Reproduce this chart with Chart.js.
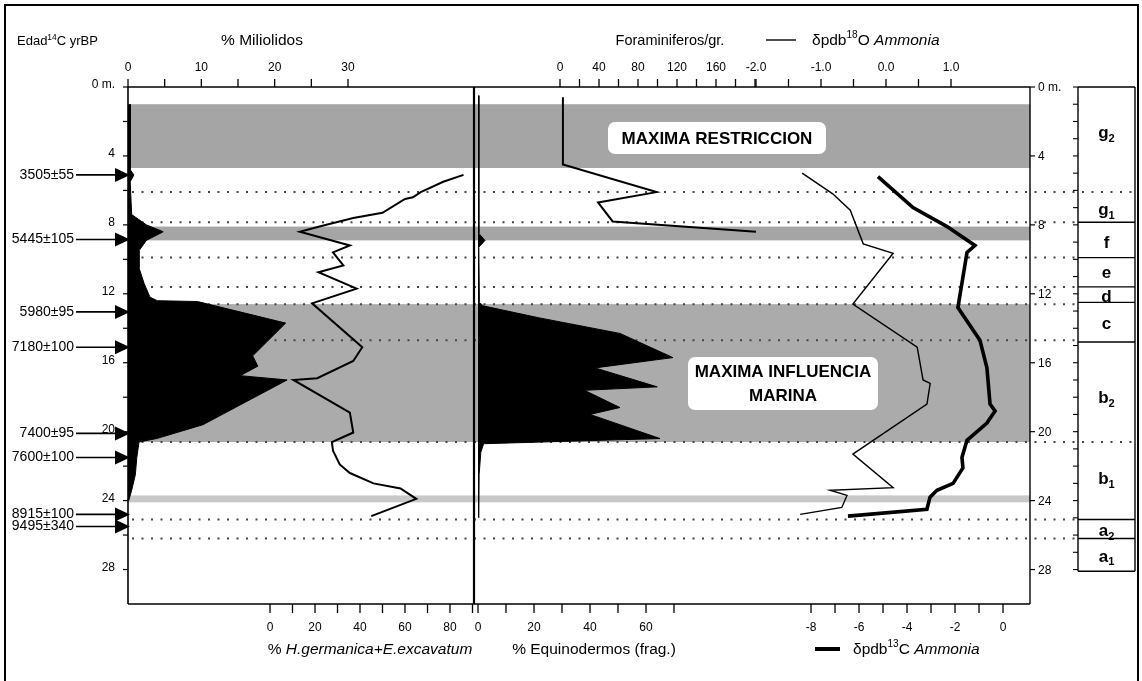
<!DOCTYPE html>
<html>
<head>
<meta charset="utf-8">
<script src="https://cdn.jsdelivr.net/npm/chart.js@4"></script>
<style>
  body { margin: 0; background: #fff; }
  canvas { display: block; }
</style>
</head>
<body>
<canvas id="c" width="1142" height="681"></canvas>
<script>
// --- datos (profundidad en m, valor) ---
const depthMil = [1.0, 4.8, 5.1, 5.5, 7.4, 8.0, 8.4, 8.9, 9.5, 10.5, 11.4, 12.2, 12.4, 12.45, 13.7, 15.6, 16.2, 16.75, 17.0, 19.6, 20.4, 20.6, 21.5, 22.5, 23.4, 24.0];
const miliolidos = [0.3, 0.3, 0.8, 0.3, 0.5, 2.5, 4.8, 2.5, 1.5, 1.5, 2.2, 3.0, 4.0, 9.5, 21.5, 17.0, 17.7, 15.3, 21.7, 10.2, 3.9, 1.5, 1.2, 1.0, 0.5, 0.1];

const depthHger = [5.1, 5.5, 6.1, 6.4, 6.5, 7.3, 7.6, 8.1, 8.4, 9.2, 9.6, 10.35, 10.75, 11.7, 12.55, 15.1, 15.9, 16.9, 17.0, 18.9, 20.05, 20.6, 21.1, 21.9, 22.4, 23.0, 23.3, 23.9, 24.9];
const hgermanica = [86, 77, 67, 63.5, 60, 50, 37, 22, 13.3, 35.5, 28, 32.6, 21.5, 38.5, 18.7, 41, 37, 21, 10.4, 35.5, 37, 27.5, 28, 31, 35.5, 46, 58, 65, 45];

const depthEqu = [0.5, 8.5, 8.9, 9.3, 12.5, 12.7, 13.4, 14.3, 15.7, 16.3, 17.4, 17.6, 18.6, 19.0, 20.4, 20.7, 21.2, 22.5, 25.0];
const equinodermos = [0.3, 0.3, 2.5, 0.3, 0.5, 1.8, 22, 50.7, 69.6, 41.8, 64, 38, 50.7, 40, 65, 2, 1.0, 0.4, 0.3];

const depthFor = [0.6, 4.5, 6.1, 6.7, 7.8, 8.4];
const foraminiferos = [3, 3, 99, 39, 54, 201];

const depthO18 = [5.0, 6.2, 7.15, 9.1, 9.65, 12.6, 15.1, 17.0, 17.2, 18.4, 21.3, 23.25, 23.4, 23.7, 24.4, 24.8];
const d18O = [-1.29, -0.82, -0.55, -0.35, 0.11, -0.51, 0.48, 0.57, 0.68, 0.63, -0.51, 0.11, -0.86, -0.6, -0.68, -1.32];

const depthC13 = [5.2, 7.0, 8.1, 9.2, 9.6, 12.8, 14.7, 16.3, 18.4, 18.8, 19.5, 20.5, 21.5, 22.1, 23.0, 23.4, 23.8, 24.5, 24.9];
const d13C = [-5.21, -3.75, -2.33, -1.17, -1.5, -1.88, -0.96, -0.67, -0.54, -0.33, -0.67, -1.5, -1.71, -1.67, -2.08, -2.75, -3.04, -3.17, -6.46];

// bandas grises y líneas de puntos (m)
const bandTop = [1.0, 8.1, 12.6, 23.7];
const bandBottom = [4.7, 8.9, 20.6, 24.1];
const bandShade = ['#a5a5a5', '#a5a5a5', '#ababab', '#c8c8c8'];
const dottedDepth = [6.1, 7.85, 9.9, 11.6, 12.6, 14.7, 20.6, 25.1, 26.2];
const dottedLong = [6.1, 20.6];

// unidades
const zoneEdges = [0, 6.1, 7.85, 9.9, 11.6, 12.5, 14.8, 20.6, 25.1, 26.2, 28.1];
const zoneName = ['g', 'g', 'f', 'e', 'd', 'c', 'b', 'b', 'a', 'a'];
const zoneSub = ['2', '1', '', '', '', '', '2', '1', '2', '1'];
const zoneLabelDepth = [2.6, 7.1, 9.0, 10.75, 12.1, 13.7, 18.0, 22.7, 25.7, 27.2];

// dataciones
const dateLabels = ['3505±55', '5445±105', '5980±95', '7180±100', '7400±95', '7600±100', '8915±100', '9495±340'];
const dateDepth = [5.1, 8.85, 13.05, 15.1, 20.1, 21.5, 24.8, 25.5];

// ejes
const depthTicks = [0, 2, 4, 6, 8, 10, 12, 14, 16, 18, 20, 22, 24, 26, 28];
const depthLabels = [0, 4, 8, 12, 16, 20, 24, 28];
const milTicks = [0, 5, 10, 15, 20, 25, 30];
const milLabels = [0, 10, 20, 30];
const hgTicks = [0, 10, 20, 30, 40, 50, 60, 70, 80, 90];
const hgLabels = [0, 20, 40, 60, 80];
const equTicks = [0, 10, 20, 30, 40, 50, 60, 70];
const equLabels = [0, 20, 40, 60];
const forTicks = [0, 20, 40, 60, 80, 100, 120, 140, 160, 180, 200];
const forLabels = [0, 40, 80, 120, 160];
const o18Ticks = [-2, -1.5, -1, -0.5, 0, 0.5, 1];
const o18Labels = [-2, -1, 0, 1];
const c13Ticks = [-8, -7, -6, -5, -4, -3, -2, -1, 0];
const c13Labels = [-8, -6, -4, -2, 0];

// marco del gráfico
const L = 128, R = 1030, T = 87, B = 604, MID = 474;
const FONT = "'Liberation Sans Narrow', 'Arial Narrow', 'Liberation Sans', Arial, sans-serif";

function pairs(depths, vals) {
  return depths.map((d, i) => ({ x: vals[i], y: d }));
}
// min/max de un eje para que v0 caiga en p0 y v1 en p1
function range(v0, p0, v1, p1) {
  const k = (p1 - p0) / (v1 - v0);
  return { min: v0 - (p0 - L) / k, max: v0 + (R - p0) / k };
}
function xScale(r) {
  return Object.assign({ type: 'linear', display: false, position: 'bottom' }, r);
}

function fnt(size, bold, italic) {
  return (italic ? 'italic ' : '') + (bold ? 'bold ' : '') + size + 'px ' + FONT;
}
function rich(ctx, parts, x, y, size, align) {
  let w = 0;
  parts.forEach(p => {
    ctx.font = fnt(p.sup || p.sub ? size * 0.65 : size, p.b, p.it);
    p.w = ctx.measureText(p.t).width;
    w += p.w;
  });
  let cx = align === 'center' ? x - w / 2 : align === 'right' ? x - w : x;
  ctx.textAlign = 'left';
  ctx.textBaseline = 'alphabetic';
  parts.forEach(p => {
    ctx.font = fnt(p.sup || p.sub ? size * 0.65 : size, p.b, p.it);
    ctx.fillText(p.t, cx, y + (p.sup ? -size * 0.42 : p.sub ? size * 0.22 : 0));
    cx += p.w;
  });
}
function hline(ctx, x1, x2, y, w) {
  ctx.lineWidth = w; ctx.beginPath(); ctx.moveTo(x1, y); ctx.lineTo(x2, y); ctx.stroke();
}
function vline(ctx, x, y1, y2, w) {
  ctx.lineWidth = w; ctx.beginPath(); ctx.moveTo(x, y1); ctx.lineTo(x, y2); ctx.stroke();
}
function box(ctx, x, y, w, h, lines, cy) {
  ctx.fillStyle = '#fff';
  ctx.beginPath(); ctx.roundRect(x, y, w, h, 7); ctx.fill();
  ctx.fillStyle = '#000';
  ctx.font = "bold 17px 'Liberation Sans', Arial, sans-serif";
  ctx.textAlign = 'center'; ctx.textBaseline = 'middle';
  lines.forEach((t, i) => ctx.fillText(t, x + w / 2, cy[i]));
}

const figure = {
  id: 'figure',
  beforeDatasetsDraw(chart) {
    const { ctx } = chart;
    const y = chart.scales.y;
    ctx.save();
    bandTop.forEach((d, i) => {
      const y1 = y.getPixelForValue(d), y2 = y.getPixelForValue(bandBottom[i]);
      ctx.fillStyle = bandShade[i];
      ctx.fillRect(L, y1, R - L, y2 - y1);
    });
    ctx.strokeStyle = '#444';
    ctx.setLineDash([2, 7.5]);
    dottedDepth.forEach(d => {
      const py = y.getPixelForValue(d);
      hline(ctx, L + 4, dottedLong.includes(d) ? 1136 : 1076, py, 2);
    });
    ctx.setLineDash([]);
    box(ctx, 608, 122, 218, 32, ['MAXIMA RESTRICCION'], [139]);
    box(ctx, 688, 357, 190, 53, ['MAXIMA INFLUENCIA', 'MARINA'], [372, 396]);
    ctx.restore();
  },
  afterDatasetsDraw(chart) {
    const { ctx } = chart;
    const s = chart.scales;
    const y = s.y;
    ctx.save();
    ctx.strokeStyle = '#000';
    ctx.fillStyle = '#000';

    // marco
    hline(ctx, L, R, T, 1.6);
    hline(ctx, L, R, B, 1.6);
    vline(ctx, L, T, B, 1.6);
    vline(ctx, R, T, B, 1.4);
    vline(ctx, MID, T, B, 2.2);

    // eje de profundidad izquierdo
    ctx.font = fnt(12);
    ctx.textAlign = 'right'; ctx.textBaseline = 'middle';
    depthTicks.forEach(d => hline(ctx, L - 5, L, y.getPixelForValue(d), 1.2));
    depthLabels.forEach(d => ctx.fillText(d === 0 ? '0 m.' : String(d), L - 13, y.getPixelForValue(d) - 2));

    // eje derecho y columna de unidades
    ctx.textAlign = 'left';
    depthLabels.forEach(d => {
      const py = y.getPixelForValue(d);
      hline(ctx, R, R + 5, py, 1.2);
      ctx.fillText(d === 0 ? '0 m.' : String(d), R + 8, py + 1);
    });
    const zx1 = 1078, zx2 = 1135;
    const zTop = y.getPixelForValue(zoneEdges[0]), zBot = y.getPixelForValue(zoneEdges[zoneEdges.length - 1]);
    vline(ctx, zx1, zTop, zBot, 1.4);
    vline(ctx, zx2, zTop, zBot, 1.4);
    for (let d = 0; d <= 28; d++) hline(ctx, zx1 - 5, zx1, y.getPixelForValue(d), 1.1);
    zoneEdges.forEach(d => {
      if (!dottedLong.includes(d)) hline(ctx, zx1, zx2, y.getPixelForValue(d), 1.4);
    });
    for (let i = 0; i < zoneName.length; i++) {
      const cy = y.getPixelForValue(zoneLabelDepth[i]) + 6;
      const parts = [{ t: zoneName[i], b: true }];
      if (zoneSub[i]) parts.push({ t: zoneSub[i], sub: true, b: true });
      rich(ctx, parts, (zx1 + zx2) / 2, cy, 17, 'center');
    }

    // ejes superiores
    ctx.textAlign = 'center'; ctx.textBaseline = 'alphabetic';
    ctx.font = fnt(12);
    const top = (sc, ticks, labels, fmt) => {
      ticks.forEach(v => vline(ctx, sc.getPixelForValue(v), T - 8, T, 1.3));
      labels.forEach(v => ctx.fillText(fmt(v), sc.getPixelForValue(v), 71));
    };
    top(s.xMil, milTicks, milLabels, String);
    top(s.xFor, forTicks, forLabels, String);
    top(s.xO18, o18Ticks, o18Labels, v => v.toFixed(1));

    // ejes inferiores
    const bot = (sc, ticks, labels) => {
      ticks.forEach(v => vline(ctx, sc.getPixelForValue(v), B, B + 9, 1.3));
      labels.forEach(v => ctx.fillText(String(v), sc.getPixelForValue(v), 631));
    };
    bot(s.xHg, hgTicks, hgLabels);
    bot(s.xEqu, equTicks, equLabels);
    bot(s.xC13, c13Ticks, c13Labels);

    // títulos
    rich(ctx, [{ t: 'Edad' }, { t: '14', sup: true }, { t: 'C yrBP' }], 17, 45, 13, 'left');
    rich(ctx, [{ t: '% Miliolidos' }], 262, 45, 15.5, 'center');
    rich(ctx, [{ t: 'Foraminiferos/gr.' }], 670, 45, 14.5, 'center');
    hline(ctx, 766, 796, 40, 1.4);
    rich(ctx, [{ t: 'δpdb' }, { t: '18', sup: true }, { t: 'O ' }, { t: 'Ammonia', it: true }], 812, 45, 15.5, 'left');
    rich(ctx, [{ t: '% ' }, { t: 'H.germanica+E.excavatum', it: true }], 370, 654, 15.5, 'center');
    rich(ctx, [{ t: '% Equinodermos (frag.)' }], 594, 654, 15.5, 'center');
    hline(ctx, 815, 840, 649, 4);
    rich(ctx, [{ t: 'δpdb' }, { t: '13', sup: true }, { t: 'C ' }, { t: 'Ammonia', it: true }], 853, 654, 15.5, 'left');

    // flechas de dataciones
    ctx.font = fnt(14);
    ctx.textAlign = 'right'; ctx.textBaseline = 'middle';
    dateLabels.forEach((t, i) => {
      const py = y.getPixelForValue(dateDepth[i]);
      ctx.fillText(t, 74, py);
      hline(ctx, 76, 118, py, 1.6);
      ctx.beginPath();
      ctx.moveTo(115, py - 7); ctx.lineTo(130, py); ctx.lineTo(115, py + 7);
      ctx.closePath(); ctx.fill();
    });

    // recuadro exterior
    ctx.lineWidth = 2;
    ctx.strokeRect(5, 5, 1133, 690);
    ctx.restore();
  }
};

const lineDs = (label, data, axis, width) => ({
  label, data, xAxisID: axis, yAxisID: 'y',
  borderColor: '#000', borderWidth: width, pointRadius: 0, tension: 0, fill: false
});
const areaDs = (label, data, axis) => ({
  label, data, xAxisID: axis, yAxisID: 'y',
  borderColor: '#000', backgroundColor: '#000', borderWidth: 1, pointRadius: 0, tension: 0, fill: { value: 0 }
});

new Chart(document.getElementById('c'), {
  type: 'line',
  data: {
    datasets: [
      lineDs('δ13C Ammonia', pairs(depthC13, d13C), 'xC13', 3.6),
      lineDs('δ18O Ammonia', pairs(depthO18, d18O), 'xO18', 1.4),
      lineDs('Foraminiferos/gr.', pairs(depthFor, foraminiferos), 'xFor', 2),
      lineDs('% H.germanica+E.excavatum', pairs(depthHger, hgermanica), 'xHg', 2),
      areaDs('% Miliolidos', pairs(depthMil, miliolidos), 'xMil'),
      areaDs('% Equinodermos', pairs(depthEqu, equinodermos), 'xEqu')
    ]
  },
  options: {
    responsive: false,
    animation: false,
    events: [],
    indexAxis: 'y',
    layout: { padding: { left: L, right: 1142 - R, top: T, bottom: 681 - B } },
    scales: {
      y: { type: 'linear', reverse: true, min: 0, max: 30, display: false },
      xMil: xScale(range(0, 128, 30, 348)),
      xHg: xScale(range(0, 270, 90, 472.5)),
      xEqu: xScale(range(0, 478, 70, 674)),
      xFor: xScale(range(0, 560, 200, 755)),
      xO18: xScale(range(-2, 756, 1, 951)),
      xC13: xScale(range(-8, 811, 0, 1003))
    },
    plugins: { legend: { display: false }, tooltip: { enabled: false } }
  },
  plugins: [figure]
});
</script>
</body>
</html>
